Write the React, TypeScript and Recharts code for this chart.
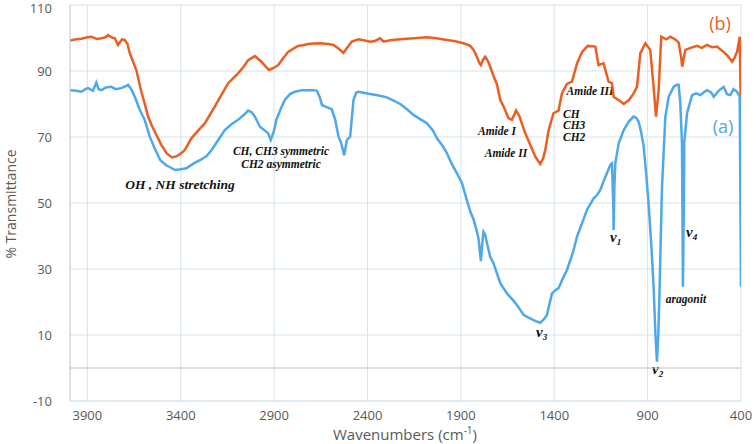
import React from 'react';
import { LineChart, Line, XAxis, YAxis, CartesianGrid, ReferenceLine } from 'recharts';

const xTicks = [3900, 3400, 2900, 2400, 1900, 1400, 900, 400];
const yTicks = [-10, 10, 30, 50, 70, 90, 110];

// Series (b) – orange
const bWavenumbers = [
  3993, 3960, 3932, 3900, 3879, 3850, 3825, 3800, 3789, 3770, 3753, 3736, 3715, 3700, 3685, 3673, 3655, 3638,
  3611, 3590, 3575, 3555, 3539, 3504, 3475, 3446, 3420, 3395, 3378, 3343, 3300, 3271, 3218, 3180, 3146, 3093,
  3060, 3039, 3003, 2968, 2940, 2927, 2900, 2878, 2850, 2825, 2790, 2771, 2740, 2718, 2690, 2653, 2610, 2582,
  2555, 2529, 2510, 2484, 2448, 2420, 2386, 2360, 2332, 2314, 2280, 2225, 2150, 2082, 2030, 1975, 1930, 1886,
  1850, 1832, 1814, 1800, 1793, 1780, 1770, 1755, 1743, 1725, 1707, 1689, 1671, 1645, 1627, 1604, 1586, 1570,
  1555, 1528, 1501, 1475, 1460, 1448, 1430, 1404, 1377, 1359, 1332, 1305, 1278, 1251, 1221, 1180, 1163, 1136,
  1109, 1091, 1082, 1050, 1028, 1000, 975, 957, 939, 912, 886, 868, 855, 841, 827, 800, 778, 750, 734, 720,
  715, 698, 670, 635, 610, 582, 555, 528, 510, 493, 470, 448, 435, 421, 407, 400,
];
const bTransmittance = [
  99.2, 99.6, 99.8, 100.2, 100.4, 99.7, 99.9, 100.3, 100.9, 100.2, 99.9, 97.9, 99.6, 99.4, 98.2, 95.4, 92.8, 90.3,
  83.7, 79.5, 76.2, 73.5, 71.6, 67.6, 65.0, 63.8, 64.2, 65.2, 66.1, 69.6, 72.4, 74.1, 79.2, 83.0, 86.3, 89.3,
  91.5, 93.3, 94.5, 92.8, 91.0, 90.3, 91.0, 91.8, 94.0, 95.8, 97.0, 97.6, 97.9, 98.2, 98.3, 98.4, 98.2, 97.9,
  96.8, 95.5, 97.0, 98.9, 99.6, 99.3, 98.9, 99.1, 99.9, 98.9, 99.3, 99.6, 99.9, 100.2, 99.9, 99.4, 99.0, 98.4,
  97.6, 96.4, 94.3, 92.3, 91.8, 93.5, 94.3, 93.0, 91.3, 88.5, 86.0, 81.2, 79.2, 75.7, 75.2, 78.0, 76.2, 73.5,
  71.1, 67.6, 64.0, 61.8, 63.5, 66.1, 72.1, 77.2, 78.0, 83.2, 86.1, 86.8, 92.3, 95.8, 97.6, 97.4, 91.8, 92.3,
  86.8, 86.3, 82.2, 81.0, 80.0, 81.2, 83.2, 85.2, 95.4, 98.4, 96.4, 85.2, 76.2, 84.2, 100.4, 99.6, 100.4, 99.5, 98.6, 94.0,
  91.3, 96.4, 97.0, 97.6, 97.0, 97.9, 97.2, 97.4, 96.5, 95.8, 94.5, 92.8, 94.0, 95.8, 100.4, 75.7,
];

// Series (a) – blue
const aWavenumbers = [
  3993, 3960, 3932, 3910, 3896, 3870, 3852, 3840, 3825, 3800, 3771, 3750, 3718, 3700, 3682, 3665, 3646, 3619,
  3593, 3566, 3539, 3510, 3480, 3450, 3430, 3400, 3370, 3330, 3290, 3260, 3236, 3200, 3164, 3130, 3093, 3060,
  3039, 3020, 3003, 2976, 2950, 2932, 2918, 2900, 2888, 2865, 2843, 2815, 2789, 2750, 2718, 2690, 2671, 2655,
  2644, 2615, 2591, 2573, 2555, 2540, 2525, 2510, 2493, 2475, 2460, 2448, 2386, 2340, 2296, 2260, 2225, 2190,
  2154, 2120, 2082, 2050, 2028, 2000, 1975, 1950, 1921, 1894, 1868, 1850, 1832, 1815, 1805, 1793, 1785, 1779,
  1770, 1764, 1743, 1725, 1689, 1653, 1620, 1600, 1564, 1530, 1511, 1490, 1475, 1455, 1439, 1425, 1412, 1395,
  1377, 1355, 1332, 1300, 1278, 1250, 1225, 1189, 1171, 1154, 1136, 1118, 1100, 1091, 1084, 1082, 1078, 1073,
  1055, 1028, 1002, 975, 960, 948, 935, 921, 908, 895, 880, 868, 858, 850, 843, 837, 823, 805, 787, 761, 745,
  734, 725, 716, 711, 706, 704, 689, 662, 640, 618, 600, 582, 560, 546, 520, 493, 475, 457, 440, 421, 407, 400,
];
const aTransmittance = [
  84.2, 84.0, 83.7, 84.5, 84.8, 84.0, 86.5, 84.5, 84.2, 85.0, 85.2, 84.5, 84.8, 85.3, 85.8, 84.5, 82.2, 78.2,
  75.2, 70.1, 66.5, 63.0, 61.5, 60.6, 60.0, 60.2, 60.5, 62.0, 63.2, 64.3, 66.0, 69.0, 72.1, 73.8, 75.2, 76.8,
  78.0, 77.5, 76.2, 73.1, 72.0, 71.1, 69.1, 72.0, 75.2, 78.5, 81.2, 83.0, 83.7, 84.2, 84.2, 84.2, 84.0, 82.0,
  79.7, 79.0, 78.4, 75.2, 70.1, 68.0, 64.5, 69.1, 70.1, 81.2, 83.5, 83.7, 83.0, 82.6, 82.0, 81.0, 80.0, 78.5,
  76.7, 75.5, 74.2, 72.0, 69.6, 67.5, 65.1, 62.0, 59.0, 56.0, 50.9, 47.5, 45.0, 41.5, 39.0, 32.4, 38.0, 41.3,
  40.5, 38.8, 33.7, 31.7, 25.7, 22.6, 20.5, 19.1, 16.1, 15.0, 14.5, 14.0, 13.7, 14.8, 16.1, 19.5, 22.6, 23.5,
  24.2, 27.0, 29.7, 35.0, 39.8, 44.0, 47.9, 51.4, 52.4, 53.9, 56.5, 59.0, 61.5, 62.0, 50.0, 41.8, 55.0, 62.0,
  68.1, 72.1, 74.6, 76.2, 75.8, 74.6, 71.5, 67.1, 59.0, 49.9, 37.0, 24.6, 10.0, 1.9, 10.0, 21.6, 54.9, 76.2, 82.2, 85.2, 85.8,
  85.8, 80.2, 68.1, 24.6, 50.0, 68.1, 77.2, 82.7, 83.2, 82.7, 83.5, 84.2, 83.5, 82.2, 84.0, 85.2, 83.0, 82.7, 84.5, 83.7, 82.2, 24.6,
];

const seriesB = bWavenumbers.map((wn, i) => ({ wn, t: bTransmittance[i] }));
const seriesA = aWavenumbers.map((wn, i) => ({ wn, t: aTransmittance[i] }));

const ORANGE = '#EB5F23';
const BLUE = '#4FA8EA';
const GRID = '#d5e3ea';
const TEXT = '#595959';
const SANS = '"Open Sans", "Noto Sans", sans-serif';
const SERIF = '"Liberation Serif", "DejaVu Serif", serif';

const noteStyle: React.CSSProperties = {
  fontFamily: SERIF,
  fontWeight: 'bold',
  fontStyle: 'italic',
  fill: '#111',
};

function Nu({ x, y, sub }: { x: number; y: number; sub: string }) {
  return (
    <text x={x} y={y} style={{ ...noteStyle, fontSize: 15 }}>
      ν
      <tspan fontSize={9} dy={3}>{sub}</tspan>
    </text>
  );
}

export default function App() {
  return (
    <div style={{ position: 'absolute', left: 0, top: 0, width: 756, height: 444, background: '#fff' }}>
      <LineChart
        width={756}
        height={444}
        margin={{ top: 5, right: 15, bottom: 13, left: 0 }}
      >
        <CartesianGrid stroke={GRID} strokeWidth={1} />
        <XAxis
          type="number"
          dataKey="wn"
          domain={[400, 3993]}
          reversed
          ticks={xTicks}
          allowDataOverflow
          height={30}
          tickLine={false}
          tickMargin={4}
          axisLine={{ stroke: GRID }}
          tick={{ fill: TEXT, fontSize: 13, fontFamily: SANS }}
        />
        <YAxis
          type="number"
          domain={[-10, 110]}
          ticks={yTicks}
          allowDataOverflow
          width={70}
          tickLine={false}
          tickMargin={12}
          axisLine={{ stroke: '#c9d6de' }}
          tick={{ fill: TEXT, fontSize: 13, fontFamily: SANS }}
        />
        <ReferenceLine y={0} stroke="#b4c0c8" strokeWidth={1} />
        <Line
          data={seriesB}
          dataKey="t"
          type="linear"
          stroke={ORANGE}
          strokeWidth={2.5}
          dot={false}
          isAnimationActive={false}
        />
        <Line
          data={seriesA}
          dataKey="t"
          type="linear"
          stroke={BLUE}
          strokeWidth={2.5}
          dot={false}
          isAnimationActive={false}
        />
        <text x={10} y={204} transform="rotate(-90 10 204)" textAnchor="middle" dominantBaseline="central"
          style={{ fontFamily: SANS, fontSize: 14, fill: TEXT }}>% Transmittance</text>
        <text x={405} y={440} textAnchor="middle" style={{ fontFamily: SANS, fontSize: 15, fill: TEXT }}>
          Wavenumbers (cm<tspan fontSize={10} dy={-6}>-1</tspan><tspan dy={6}>)</tspan>
        </text>
        <text x={720} y={30} textAnchor="middle" style={{ fontFamily: SANS, fontSize: 18, fill: ORANGE }}>(b)</text>
        <text x={723} y={133} textAnchor="middle" style={{ fontFamily: SANS, fontSize: 18, fill: BLUE }}>(a)</text>
        <text x={180} y={189} textAnchor="middle" style={{ ...noteStyle, fontSize: 13.5 }}>OH , NH stretching</text>
        <text x={281} y={155} textAnchor="middle" style={{ ...noteStyle, fontSize: 11.5 }}>CH, CH3 symmetric</text>
        <text x={281} y={168} textAnchor="middle" style={{ ...noteStyle, fontSize: 11.5 }}>CH2 asymmetric</text>
        <text x={497} y={135} textAnchor="middle" style={{ ...noteStyle, fontSize: 11.5 }}>Amide I</text>
        <text x={506} y={157} textAnchor="middle" style={{ ...noteStyle, fontSize: 11.5 }}>Amide II</text>
        <text x={590} y={95} textAnchor="middle" style={{ ...noteStyle, fontSize: 11.5 }}>Amide III</text>
        <text x={563} y={118} style={{ ...noteStyle, fontSize: 11.5 }}>CH</text>
        <text x={563} y={129} style={{ ...noteStyle, fontSize: 11.5 }}>CH3</text>
        <text x={563} y={141} style={{ ...noteStyle, fontSize: 11.5 }}>CH2</text>
        <text x={686} y={303} textAnchor="middle" style={{ ...noteStyle, fontSize: 11.5 }}>aragonit</text>
        <Nu x={610} y={242} sub="1" />
        <Nu x={686} y={237} sub="4" />
        <Nu x={652} y={374} sub="2" />
        <Nu x={536} y={337} sub="3" />
      </LineChart>
    </div>
  );
}
